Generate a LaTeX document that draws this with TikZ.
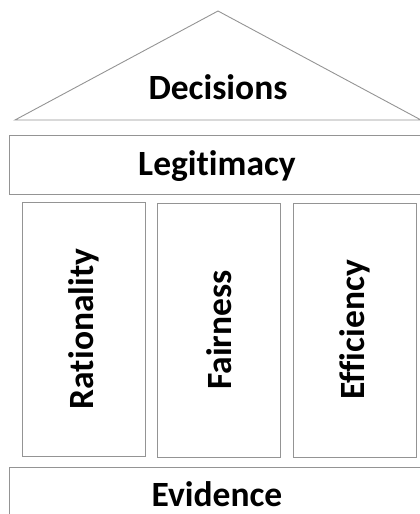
\documentclass[tikz,border=0pt]{standalone}
\usepackage{fontspec}
\setmainfont[Ligatures=NoCommon]{Carlito}

\begin{document}
\begin{tikzpicture}[x=1pt, y=1pt,
    part/.style={draw=black!42, line width=0.9pt, inner sep=0pt,
      font=\fontsize{35.5}{40}\selectfont\bfseries}, % all boxes and labels
    pillar/.style={part, rotate=90, minimum width=254pt, minimum height=123pt}
   ]
  \path[use as bounding box, clip] (0,0) rectangle (420,514);
  % roof
  \coordinate (apex) at (218,503);
  \coordinate (eaveL) at (15,394);
  \coordinate (eaveR) at (421,394);
  \draw[draw=black!42, line width=0.9pt, line join=miter] (eaveL) -- (apex) -- (eaveR) -- cycle;
  \node[part, draw=none] (decisions) at (218,426.5) {Decisions};
  % beam
  \node[part, minimum width=416pt, minimum height=59pt, text depth=2pt] (legitimacy) at (217,349.5) {Legitimacy};
  % the three pillars
  \node[pillar] (rationality) at (83.5,185) {Rationality};
  \node[pillar] (fairness) at (219,184) {Fairness};
  \node[pillar] (efficiency) at (354.5,184) {Efficiency};
  % foundation
  \node[part, minimum width=416pt, minimum height=54pt] (evidence) at (217,20) {Evidence};
\end{tikzpicture}
\end{document}
